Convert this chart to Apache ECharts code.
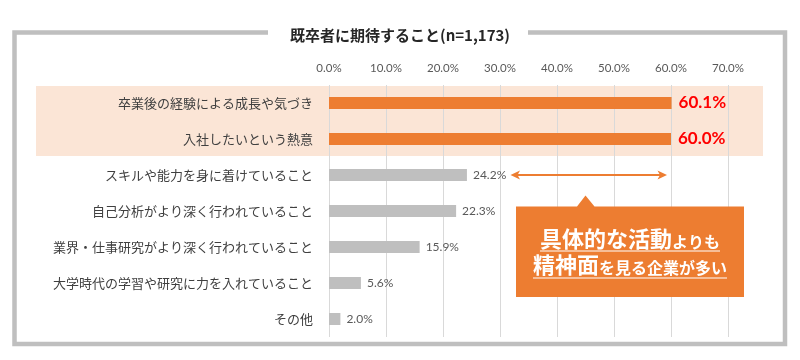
<!DOCTYPE html>
<html>
<head>
<meta charset="utf-8">
<script src="https://cdn.jsdelivr.net/npm/echarts@6/dist/echarts.min.js"></script>
<style>
html,body{margin:0;padding:0;background:#fff;}
#chart{width:800px;height:360px;}
</style>
</head>
<body>
<div id="chart"></div>
<script>
const chartTitle = '既卒者に期待すること(n=1,173)';
const categories = [
  '卒業後の経験による成長や気づき',
  '入社したいという熱意',
  'スキルや能力を身に着けていること',
  '自己分析がより深く行われていること',
  '業界・仕事研究がより深く行われていること',
  '大学時代の学習や研究に力を入れていること',
  'その他'
];
const values = [60.1, 60.0, 24.2, 22.3, 15.9, 5.6, 2.0];
const highlighted = [true, true, false, false, false, false, false];
const axisMax = 70;
const axisStep = 10;
const calloutBig1 = '具体的な活動';
const calloutSmall1 = 'よりも';
const calloutBig2 = '精神面';
const calloutSmall2 = 'を見る企業が多い';

const ORANGE = '#ED7D31';
const GREY = '#BFBFBF';
const JP = '"Noto Sans CJK JP", "Noto Sans", sans-serif';
const NUM = 'Lato, "Noto Sans", sans-serif';

const chart = echarts.init(document.getElementById('chart'), null, {renderer: 'canvas'});

const barData = values.map((v, i) => ({
  value: v,
  itemStyle: {color: highlighted[i] ? ORANGE : GREY},
  label: highlighted[i]
    ? {color: '#FF0000', fontSize: 17, fontWeight: 'bold', distance: 7}
    : {color: '#595959', fontSize: 12, distance: 6}
}));

const option = {
  backgroundColor: '#ffffff',
  animation: false,
  title: {
    text: chartTitle,
    left: 'center',
    top: 23,
    textStyle: {fontFamily: JP, fontSize: 15, fontWeight: 'bold', color: '#262626'}
  },
  grid: {left: 329, right: 72, top: 85, bottom: 23, containLabel: false},
  xAxis: {
    type: 'value',
    position: 'top',
    min: 0,
    max: axisMax,
    interval: axisStep,
    axisLine: {show: false},
    axisTick: {show: false},
    axisLabel: {
      margin: 11,
      fontFamily: NUM,
      fontSize: 11.5,
      color: '#595959',
      formatter: v => v.toFixed(1) + '%'
    },
    splitLine: {show: true, lineStyle: {color: '#D9D9D9', width: 1}}
  },
  yAxis: {
    type: 'category',
    inverse: true,
    data: categories,
    axisLine: {show: false},
    axisTick: {show: false},
    axisLabel: {margin: 16, fontFamily: JP, fontSize: 13, color: '#404040'}
  },
  series: [{
    type: 'bar',
    data: barData,
    barWidth: 12,
    z: 3,
    label: {
      show: true,
      position: 'right',
      fontFamily: NUM,
      formatter: p => p.value.toFixed(1) + '%'
    }
  }],
  graphic: [
    {type: 'rect', z: -10, silent: true,
     shape: {x: 36, y: 86, width: 727, height: 70},
     style: {fill: '#FBE5D6'}},
    {type: 'polyline', z: 100, silent: true,
     shape: {points: [[268, 32.5], [14.5, 32.5], [14.5, 344], [785, 344], [785, 32.5], [528, 32.5]]},
     style: {stroke: '#BFBFBF', lineWidth: 4.5, fill: null, lineJoin: 'miter'}},
    // double arrow
    {type: 'line', z: 100, silent: true,
     shape: {x1: 517, y1: 175, x2: 660, y2: 175},
     style: {stroke: ORANGE, lineWidth: 2}},
    {type: 'polygon', z: 100, silent: true,
     shape: {points: [[510.5, 175], [520, 170.5], [517.5, 175], [520, 179.5]]},
     style: {fill: ORANGE}},
    {type: 'polygon', z: 100, silent: true,
     shape: {points: [[667, 175], [657.5, 170.5], [660, 175], [657.5, 179.5]]},
     style: {fill: ORANGE}},
    // callout box with pointer
    {type: 'polygon', z: 100, silent: true,
     shape: {points: [[516, 206.5], [577, 206.5], [585.5, 195.5], [594.5, 206.5], [744, 206.5], [744, 297], [516, 297]]},
     style: {fill: ORANGE}},
    {type: 'text', z: 101, silent: true,
     x: 630, y: 250,
     style: {
       text: '{b|' + calloutBig1 + '}{s|' + calloutSmall1 + '}',
       align: 'center', verticalAlign: 'bottom',
       rich: {
         b: {fontFamily: JP, fontSize: 22, fontWeight: 'bold', fill: '#ffffff', verticalAlign: 'bottom'},
         s: {fontFamily: JP, fontSize: 16, fontWeight: 'bold', fill: '#ffffff', verticalAlign: 'bottom'}
       }
     }},
    {type: 'text', z: 101, silent: true,
     x: 630, y: 276,
     style: {
       text: '{b|' + calloutBig2 + '}{s|' + calloutSmall2 + '}',
       align: 'center', verticalAlign: 'bottom',
       rich: {
         b: {fontFamily: JP, fontSize: 22, fontWeight: 'bold', fill: '#ffffff', verticalAlign: 'bottom'},
         s: {fontFamily: JP, fontSize: 16, fontWeight: 'bold', fill: '#ffffff', verticalAlign: 'bottom'}
       }
     }},
    {type: 'line', z: 101, silent: true,
     shape: {x1: 540, y1: 251, x2: 720, y2: 251},
     style: {stroke: '#ffffff', lineWidth: 1.2}},
    {type: 'line', z: 101, silent: true,
     shape: {x1: 533, y1: 278, x2: 727, y2: 278},
     style: {stroke: '#ffffff', lineWidth: 1.2}}
  ]
};
chart.setOption(option);
</script>
</body>
</html>
